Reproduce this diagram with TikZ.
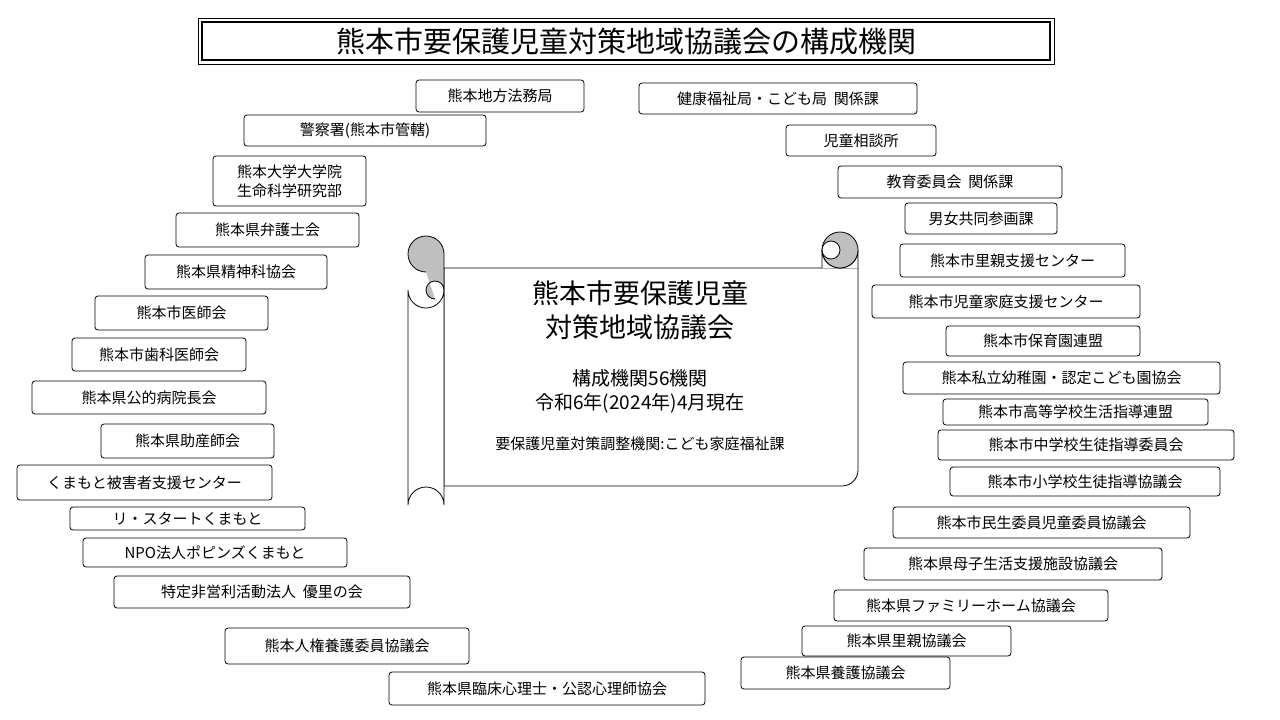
\documentclass[tikz,border=0pt]{standalone}
\usepackage{fontspec}
\setmainfont{Noto Sans CJK JP}
\usetikzlibrary{backgrounds}
\tikzset{box/.style={draw,fill=white,rounded corners=3pt,inner sep=0pt,align=center,font=\fontsize{15}{19}\selectfont,line width=0.8pt},
link/.style={line width=0.7pt,draw=black!80}}
\newcommand\bx[6]{\node[box,minimum width={(#4-#2)*1pt},minimum height={(#5-#3)*1pt}] (#1) at ({(#2+#4)/2},{(#3+#5)/2}) {#6};}
\begin{document}
\begin{tikzpicture}[x=1pt,y=-1pt]
\useasboundingbox (0,0) rectangle (1280,720);
\fill[white] (0,0) rectangle (1280,720);
\draw[line width=1pt] (198,18) rectangle (1054,64);
\draw[line width=1.6pt] (202,22) rectangle (1050,60);
\node[font=\fontsize{29}{32}\selectfont] (title) at (626,42) {熊本市要保護児童対策地域協議会の構成機関};
% scroll
\draw[line width=0.8pt,fill=white] (444,268) -- (858,268) -- (858,470) arc[start angle=0,end angle=90,radius=16] -- (444,486) -- cycle;
\draw[line width=0.8pt,fill=white] (822,268) -- (822,250) arc[start angle=180,end angle=0,radius=18] -- (858,268);
\draw[line width=0.8pt,fill=black!25] (840,250) circle[radius=18];
\draw[line width=0.8pt,fill=white] (822,250) arc[start angle=180,end angle=360,radius=9] -- (840,250) arc[start angle=0,end angle=180,radius=9] ;
\draw[line width=0.8pt,fill=white] (408,290) -- (408,505) arc[start angle=180,end angle=360,radius=18] -- (444,290) arc[start angle=0,end angle=180,radius=18] -- cycle;
\draw[line width=0.8pt,fill=black!25] (426,272) arc[start angle=90,end angle=-90,radius=9] arc[start angle=-90,end angle=90,radius=9] -- cycle;
\draw[line width=0.8pt,fill=black!25] (426,272) arc[start angle=90,end angle=360,radius=18] -- (444,290) arc[start angle=0,end angle=-90,radius=9] arc[start angle=270,end angle=90,radius=9];
\node[font=\fontsize{27}{34}\selectfont,align=center] (st) at (640,310) {熊本市要保護児童\\対策地域協議会};
\node[font=\fontsize{19}{24}\selectfont,align=center] (s2) at (640,391) {構成機関56機関\\令和6年(2024年)4月現在};
\node[font=\fontsize{15}{18}\selectfont] (s3) at (640,444) {要保護児童対策調整機関:こども家庭福祉課};
% left
\bx{L1}{416}{80}{584}{112}{熊本地方法務局}
\bx{L2}{244}{115}{486}{146}{警察署(熊本市管轄)}
\bx{L3}{213}{156}{366}{206}{熊本大学大学院\\生命科学研究部}
\bx{L4}{176}{213}{359}{247}{熊本県弁護士会}
\bx{L5}{145}{255}{327}{289}{熊本県精神科協会}
\bx{L6}{95}{296}{268}{330}{熊本市医師会}
\bx{L7}{72}{338}{246}{371}{熊本市歯科医師会}
\bx{L8}{32}{381}{266}{414}{熊本県公的病院長会}
\bx{L9}{101}{424}{274}{458}{熊本県助産師会}
\bx{L10}{17}{465}{272}{500}{くまもと被害者支援センター}
\bx{L11}{70}{507}{305}{530}{リ・スタートくまもと}
\bx{L12}{83}{538}{347}{567}{NPO法人ポピンズくまもと}
\bx{L13}{114}{576}{410}{608}{特定非営利活動法人\ \ 優里の会}
\bx{L14}{225}{628}{469}{664}{熊本人権養護委員協議会}
\bx{B}{389}{672}{705}{705}{熊本県臨床心理士・公認心理師協会}
% right
\bx{R1}{639}{83}{917}{114}{健康福祉局・こども局\ \ 関係課}
\bx{R2}{786}{125}{936}{156}{児童相談所}
\bx{R3}{838}{166}{1062}{198}{教育委員会\ \ 関係課}
\bx{R4}{905}{203}{1057}{234}{男女共同参画課}
\bx{R5}{900}{244}{1125}{277}{熊本市里親支援センター}
\bx{R6}{872}{285}{1140}{318}{熊本市児童家庭支援センター}
\bx{R7}{946}{326}{1140}{356}{熊本市保育園連盟}
\bx{R8}{903}{362}{1220}{394}{熊本私立幼稚園・認定こども園協会}
\bx{R9}{943}{399}{1208}{425}{熊本市高等学校生活指導連盟}
\bx{R10}{938}{430}{1234}{460}{熊本市中学校生徒指導委員会}
\bx{R11}{950}{467}{1220}{496}{熊本市小学校生徒指導協議会}
\bx{R12}{893}{507}{1190}{538}{熊本市民生委員児童委員協議会}
\bx{R13}{864}{548}{1162}{580}{熊本県母子生活支援施設協議会}
\bx{R14}{834}{590}{1108}{621}{熊本県ファミリーホーム協議会}
\bx{R15}{802}{626}{1011}{656}{熊本県里親協議会}
\bx{R16}{741}{657}{950}{689}{熊本県養護協議会}
\begin{scope}[on background layer]
\draw[link] (L1.east) -- (R1.west);
\draw[link] (L1) -- (L2) -- (L3) -- (L4) -- (L5) -- (L6) -- (L7) -- (L8) -- (L9) -- (L10) -- (L11) -- (L12) -- (L13) -- (L14) -- (B);
\draw[link] (R1) -- (R2) -- (R3) -- (R4) -- (R5) -- (R6) -- (R7) -- (R8) -- (R9) -- (R10) -- (R11) -- (R12) -- (R13) -- (R14) -- (R15) -- (R16) -- (B);
\end{scope}
\end{tikzpicture}
\end{document}
